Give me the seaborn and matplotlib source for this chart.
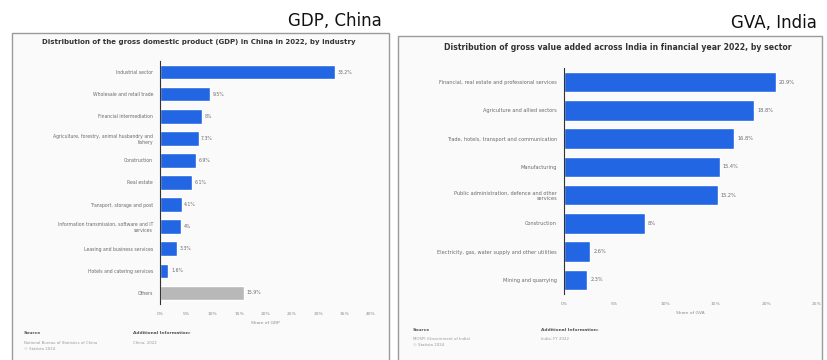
import matplotlib
matplotlib.use("Agg")
import matplotlib.pyplot as plt
from matplotlib.patches import Rectangle
import pandas as pd
import seaborn as sns

# China: share of GDP by industry, 2022 (%)
china_industries = [
    "Industrial sector",
    "Wholesale and retail trade",
    "Financial intermediation",
    "Agriculture, forestry, animal husbandry and\nfishery",
    "Construction",
    "Real estate",
    "Transport, storage and post",
    "Information transmission, software and IT\nservices",
    "Leasing and business services",
    "Hotels and catering services",
    "Others",
]
china_share = [33.2, 9.5, 8.0, 7.3, 6.9, 6.1, 4.1, 4.0, 3.3, 1.6, 15.9]
china_labels = ["33.2%", "9.5%", "8%", "7.3%", "6.9%", "6.1%", "4.1%", "4%", "3.3%", "1.6%", "15.9%"]
china_ticks = [0, 5, 10, 15, 20, 25, 30, 35, 40]

# India: share of gross value added by sector, FY 2022 (%)
india_sectors = [
    "Financial, real estate and professional services",
    "Agriculture and allied sectors",
    "Trade, hotels, transport and communication",
    "Manufacturing",
    "Public administration, defence and other\nservices",
    "Construction",
    "Electricity, gas, water supply and other utilities",
    "Mining and quarrying",
]
india_share = [20.9, 18.8, 16.8, 15.4, 15.2, 8.0, 2.6, 2.3]
india_labels = ["20.9%", "18.8%", "16.8%", "15.4%", "15.2%", "8%", "2.6%", "2.3%"]
india_ticks = [0, 5, 10, 15, 20, 25]

BLUE = "#2266e3"
GREY_BAR = "#b8b8b8"
TXT = "#6a6a6a"

sns.set_theme(style="white")
plt.rcParams["font.family"] = ["DejaVu Sans"]

W, H = 827, 360
fig = plt.figure(figsize=(W / 100, H / 100), dpi=100)
fig.patch.set_facecolor("white")


def px_rect(x0, y0, x1, y1):
    """Convert a pixel box (top-left origin) to figure fractions."""
    return [x0 / W, 1 - y1 / H, (x1 - x0) / W, (y1 - y0) / H]


def card(x0, y0, x1, y1):
    fig.patches.append(Rectangle((x0 / W, 1 - y1 / H), (x1 - x0) / W, (y1 - y0) / H,
                                 transform=fig.transFigure, facecolor="#fafafa",
                                 edgecolor="#9a9a9a", linewidth=1.0, zorder=-5))


def fx(x):
    return x / W


def fy(y):
    return 1 - y / H


def panel(ax, cats, vals, labels, ticks, colors, xlabel, fs, width):
    df = pd.DataFrame({"category": cats, "value": vals})
    sns.barplot(data=df, x="value", y="category", hue="category", palette=colors,
                orient="h", width=width, saturation=1, legend=False, ax=ax)
    ax.set_facecolor("none")
    ax.set_xlim(ticks[0], ticks[-1])
    ax.set_xticks(ticks)
    ax.set_xticklabels([f"{t}%" for t in ticks], fontsize=3.2, color="#8a8a8a")
    ax.tick_params(axis="x", length=0, pad=6)
    ax.tick_params(axis="y", length=0, pad=5)
    for lab in ax.get_yticklabels():
        lab.set_fontsize(fs)
        lab.set_color(TXT)
    ax.set_ylabel("")
    ax.set_xlabel(xlabel, fontsize=3.2, color="#8a8a8a", labelpad=3)
    for s in ["top", "right", "bottom"]:
        ax.spines[s].set_visible(False)
    ax.spines["left"].set_color("#333333")
    ax.spines["left"].set_linewidth(0.8)
    for i, (v, t) in enumerate(zip(vals, labels)):
        ax.text(v + (ticks[-1] - ticks[0]) * 0.012, i, t, va="center", ha="left",
                fontsize=fs, color=TXT)


# Cards
card(12, 33, 389, 362)
card(398, 36, 822, 362)

# Left panel
axL = fig.add_axes(px_rect(160, 61, 371, 304))
axL.set_zorder(2)
panel(axL, china_industries, china_share, china_labels, china_ticks,
      [BLUE] * 10 + [GREY_BAR], "Share of GDP", 3.3, 0.66)

# Right panel
axR = fig.add_axes(px_rect(564, 68, 817, 294))
axR.set_zorder(2)
panel(axR, india_sectors, india_share, india_labels, india_ticks,
      [BLUE] * len(india_share), "Share of GVA", 3.6, 0.72)

# Headings above the cards
fig.text(fx(382), fy(21), "GDP, China", ha="right", va="center", fontsize=12, color="#111111")
fig.text(fx(817), fy(23), "GVA, India", ha="right", va="center", fontsize=12, color="#111111")

# Chart titles
fig.text(fx(199), fy(42), "Distribution of the gross domestic product (GDP) in China in 2022, by industry",
         ha="center", va="center", fontsize=5.0, fontweight="bold", color="#333333")
fig.text(fx(618), fy(47), "Distribution of gross value added across India in financial year 2022, by sector",
         ha="center", va="center", fontsize=5.6, fontweight="bold", color="#333333")

# Footers
fig.text(fx(24), fy(333), "Source", fontsize=3.2, fontweight="bold", color="#555555", va="center")
fig.text(fx(24), fy(341), "National Bureau of Statistics of China\n© Statista 2024",
         fontsize=2.8, color="#999999", va="top", linespacing=1.5)
fig.text(fx(133), fy(333), "Additional Information:", fontsize=3.2, fontweight="bold",
         color="#555555", va="center")
fig.text(fx(133), fy(341), "China; 2022", fontsize=2.8, color="#999999", va="top")

fig.text(fx(413), fy(330), "Source", fontsize=3.2, fontweight="bold", color="#555555", va="center")
fig.text(fx(413), fy(337), "MOSPI (Government of India)\n© Statista 2024",
         fontsize=2.8, color="#999999", va="top", linespacing=1.5)
fig.text(fx(541), fy(330), "Additional Information:", fontsize=3.2, fontweight="bold",
         color="#555555", va="center")
fig.text(fx(541), fy(337), "India; FY 2022", fontsize=2.8, color="#999999", va="top")

fig.savefig("out.png", dpi=100, facecolor="white")
